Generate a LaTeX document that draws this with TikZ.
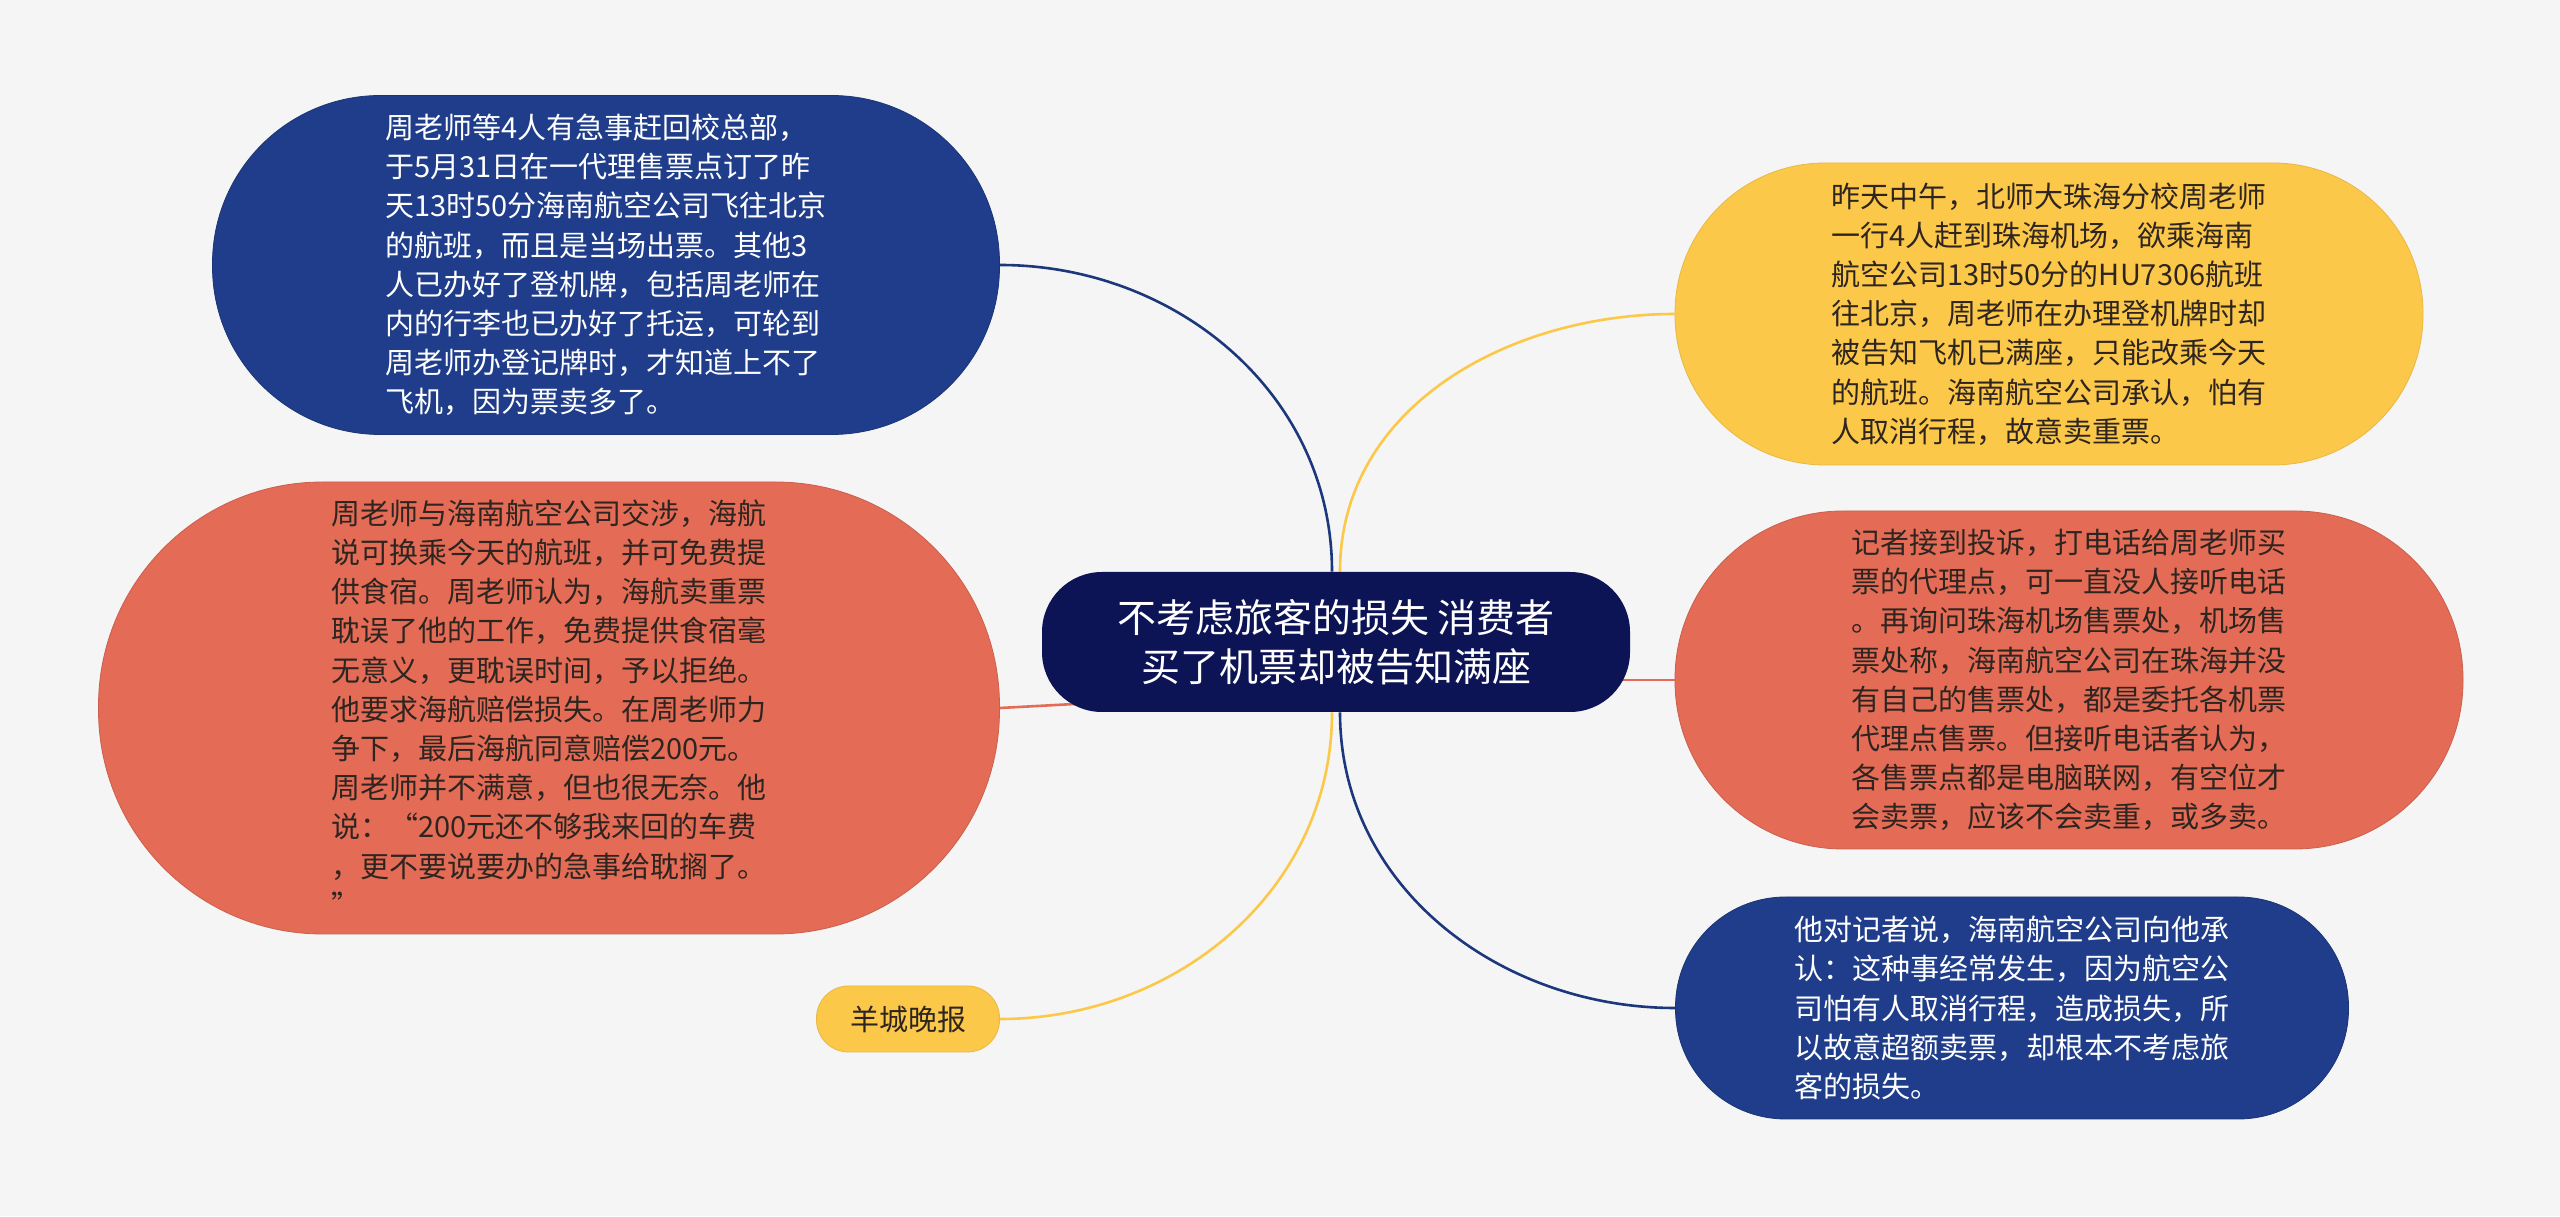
\documentclass[tikz,border=0pt]{standalone}
\usepackage{fontspec}
\usepackage{xcolor}
\usepackage{tikz}
\usetikzlibrary{backgrounds}
\newfontfamily\cjk{Noto Sans CJK SC}
\definecolor{pagebg}{HTML}{F5F5F5}
\definecolor{navyx}{HTML}{0D1456}
\definecolor{bluex}{HTML}{1F3D8A}
\definecolor{coralx}{HTML}{E46C56}
\definecolor{yellowx}{HTML}{FCC84A}
\definecolor{inkx}{HTML}{2E2520}
\tikzset{
  bub/.style={rectangle,inner sep=0pt,align=left,font=\cjk\fontsize{14.5}{19.6}\selectfont},
  bluebub/.style={bub,fill=bluex,draw=bluex!85!black,thin,text=white},
  corbub/.style={bub,fill=coralx,draw=coralx!88!black,thin,text=inkx},
  yelbub/.style={bub,fill=yellowx,draw=yellowx!92!black,thin,text=inkx},
  ctrbox/.style={rectangle,inner sep=0pt,align=center,fill=navyx,text=white,rounded corners=30pt,
    minimum width=294pt,minimum height=70pt,font=\cjk\fontsize{19.5}{24.5}\selectfont},
  lb/.style={line width=1.3pt,bluex!90!black},
  ly/.style={line width=1.3pt,yellowx},
  lc/.style={line width=1.3pt,coralx}
}

\begin{document}
\begin{tikzpicture}[x=0.5pt,y=0.5pt]
\useasboundingbox (0,0) rectangle (2560,1216);
\node[ctrbox] (ctr) at (1336,574) {不考虑旅客的损失 消费者\\买了机票却被告知满座};
\node[bluebub,rounded corners=84pt,minimum width=393.5pt,minimum height=169.5pt] (zhou) at (606,951)
  {周老师等4人有急事赶回校总部，\\于5月31日在一代理售票点订了昨\\天13时50分海南航空公司飞往北京\\的航班，而且是当场出票。其他3\\人已办好了登机牌，包括周老师在\\内的行李也已办好了托运，可轮到\\周老师办登记牌时，才知道上不了\\飞机，因为票卖多了。};
\node[corbub,rounded corners=112pt,minimum width=450.5pt,minimum height=226pt] (talks) at (549,508)
  {周老师与海南航空公司交涉，海航\\说可换乘今天的航班，并可免费提\\供食宿。周老师认为，海航卖重票\\耽误了他的工作，免费提供食宿毫\\无意义，更耽误时间，予以拒绝。\\他要求海航赔偿损失。在周老师力\\争下，最后海航同意赔偿200元。\\周老师并不满意，但也很无奈。他\\说：“200元还不够我来回的车费\\，更不要说要办的急事给耽搁了。\\”};
\node[yelbub,rounded corners=16pt,minimum width=91.5pt,minimum height=33pt] (paper) at (908,197) {羊城晚报};
\node[yelbub,rounded corners=75pt,minimum width=374pt,minimum height=151pt] (noon) at (2049,902)
  {昨天中午，北师大珠海分校周老师\\一行4人赶到珠海机场，欲乘海南\\航空公司13时50分的HU7306航班\\往北京，周老师在办理登机牌时却\\被告知飞机已满座，只能改乘今天\\的航班。海南航空公司承认，怕有\\人取消行程，故意卖重票。};
\node[corbub,rounded corners=84pt,minimum width=394pt,minimum height=169pt] (reporter) at (2069,536)
  {记者接到投诉，打电话给周老师买\\票的代理点，可一直没人接听电话\\。再询问珠海机场售票处，机场售\\票处称，海南航空公司在珠海并没\\有自己的售票处，都是委托各机票\\代理点售票。但接听电话者认为，\\各售票点都是电脑联网，有空位才\\会卖票，应该不会卖重，或多卖。};
\node[bluebub,rounded corners=55pt,minimum width=336.5pt,minimum height=111pt] (admit) at (2012,208)
  {他对记者说，海南航空公司向他承\\认：这种事经常发生，因为航空公\\司怕有人取消行程，造成损失，所\\以故意超额卖票，却根本不考虑旅\\客的损失。};
\begin{scope}[on background layer]
\fill[pagebg] (0,0) rectangle (2560,1216);
\draw[lb] (zhou.east) to[out=0,in=90] ([xshift=-2pt]ctr.north);
\draw[ly] ([xshift=2pt]ctr.north) to[out=90,in=180] (noon.west);
\draw[lc] (talks.east) -- ([yshift=-24pt]ctr.center);
\draw[lc] ([yshift=-19pt]ctr.center) -- (reporter.west);
\draw[ly] (paper.east) to[out=0,in=-90] ([xshift=-2pt]ctr.south);
\draw[lb] ([xshift=2pt]ctr.south) to[out=-90,in=180] (admit.west);
\end{scope}
\end{tikzpicture}
\end{document}
